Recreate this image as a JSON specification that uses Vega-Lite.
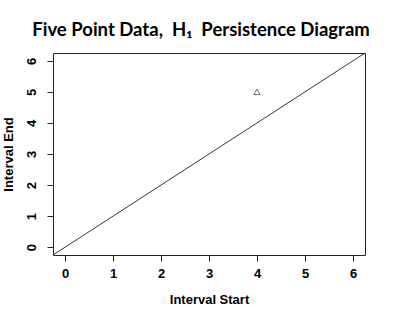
{
  "$schema": "https://vega.github.io/schema/vega-lite/v6.json",
  "width": 312,
  "height": 202,
  "autosize": {"type": "none"},
  "padding": {"left": 53, "top": 53, "right": 34, "bottom": 66},
  "background": "white",
  "title": {
    "text": "Five Point Data,\u00a0 H₁\u00a0 Persistence Diagram",
    "font": "Lato",
    "fontSize": 18.5,
    "fontWeight": "bold",
    "color": "black",
    "anchor": "middle",
    "dx": -8,
    "offset": 14
  },
  "config": {
    "view": {"stroke": "#222", "strokeWidth": 1},
    "axis": {
      "domain": false,
      "grid": false,
      "tickColor": "#222",
      "tickSize": 6,
      "labelFont": "Liberation Sans",
      "labelFontWeight": "bold",
      "labelFontSize": 13,
      "labelColor": "black",
      "labelFlush": false,
      "labelOverlap": false,
      "titleFont": "Liberation Sans",
      "titleFontWeight": "bold",
      "titleFontSize": 13,
      "titleColor": "black"
    },
    "axisX": {"labelPadding": 6, "titlePadding": 13},
    "axisY": {"labelAngle": 270, "labelAlign": "center", "labelBaseline": "bottom", "labelPadding": 9, "titlePadding": 10}
  },
  "datasets": {
    "diag": [{"x": -0.25, "y": -0.25, "x2": 6.25, "y2": 6.25}],
    "points": [{"x": 4, "y": 5}]
  },
  "encoding": {
    "x": {"field": "x", "type": "quantitative", "scale": {"domain": [-0.25, 6.25], "nice": false, "zero": false},
      "axis": {"title": "Interval Start", "values": [0, 1, 2, 3, 4, 5, 6]}},
    "y": {"field": "y", "type": "quantitative", "scale": {"domain": [-0.25, 6.25], "nice": false, "zero": false},
      "axis": {"title": "Interval End", "values": [0, 1, 2, 3, 4, 5, 6]}}
  },
  "layer": [
    {
      "data": {"name": "diag"},
      "mark": {"type": "rule", "color": "black", "strokeWidth": 0.8, "clip": true},
      "encoding": {
        "x2": {"field": "x2"},
        "y2": {"field": "y2"}
      }
    },
    {
      "data": {"name": "points"},
      "mark": {"type": "point", "shape": "triangle-up", "filled": false, "color": "black", "size": 40, "strokeWidth": 0.8}
    }
  ]
}
